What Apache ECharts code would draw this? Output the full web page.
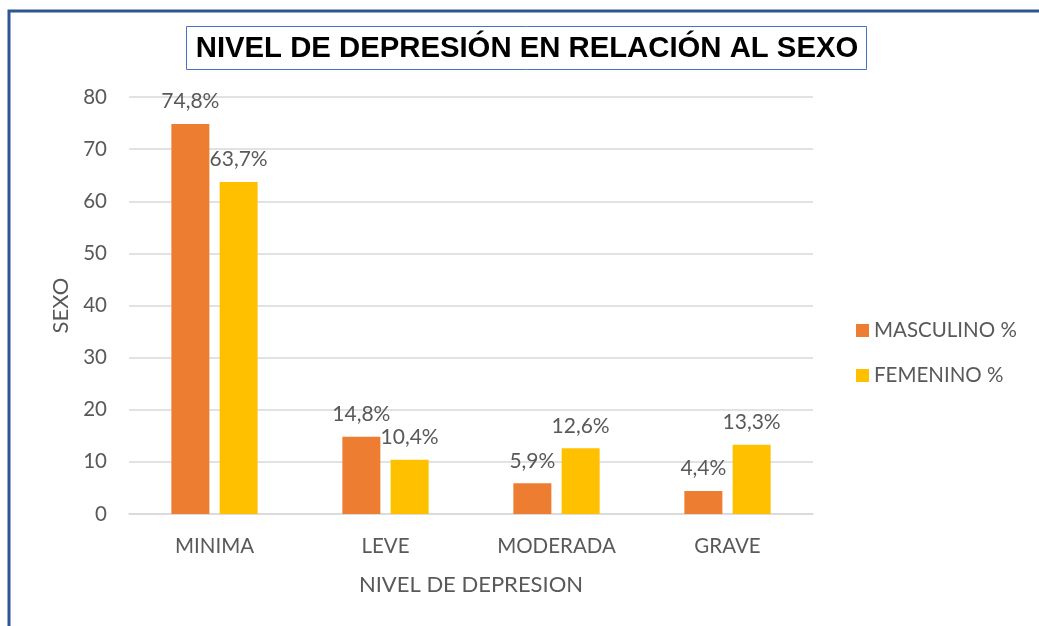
<!DOCTYPE html>
<html>
<head>
<meta charset="utf-8">
<script src="https://cdn.jsdelivr.net/npm/echarts@6/dist/echarts.min.js"></script>
<style>
  html, body { margin: 0; padding: 0; background: #fff; }
  #chart { width: 1039px; height: 626px; }
</style>
</head>
<body>
<div id="chart"></div>
<script>
let categorias = ['MINIMA', 'LEVE', 'MODERADA', 'GRAVE']
let masculino = [74.8, 14.8, 5.9, 4.4]
let femenino = [63.7, 10.4, 12.6, 13.3]
let nombres = ['MASCULINO %', 'FEMENINO %']

let gris = '#595959'
let fuente = 'Lato, "Open Sans", sans-serif'

function etiqueta(p) {
    return p.value.toFixed(1).replace('.', ',') + '%'
}

let myChart = echarts.init(document.getElementById('chart'))

let option = {
    animation: false,
    textStyle: { fontFamily: fuente },
    graphic: [
        {
            type: 'rect',
            shape: { x: 9, y: 11, width: 1200, height: 800 },
            style: { fill: 'none', stroke: '#2F5597', lineWidth: 3 },
            z: 0
        },
        {
            type: 'rect',
            shape: { x: 186.5, y: 26.5, width: 680, height: 43 },
            style: { fill: '#fff', stroke: '#4472C4', lineWidth: 1 },
            z: 1
        },
        {
            type: 'text',
            x: 527,
            y: 49,
            style: {
                text: 'NIVEL DE DEPRESIÓN EN RELACIÓN AL SEXO',
                align: 'center', verticalAlign: 'middle',
                font: 'bold 29.3px "Liberation Sans", Arial, sans-serif',
                fill: '#000'
            },
            z: 2
        }
    ],
    grid: { left: 129, right: 226, top: 97, bottom: 112 },
    legend: {
        orient: 'vertical',
        left: 851,
        top: 315,
        itemWidth: 13,
        itemHeight: 13,
        itemGap: 24,
        icon: 'rect',
        textStyle: { color: gris, fontSize: 20.5, fontFamily: fuente },
        data: nombres
    },
    xAxis: {
        type: 'category',
        data: categorias,
        name: 'NIVEL DE DEPRESION',
        nameLocation: 'middle',
        nameGap: 60,
        nameTextStyle: { color: gris, fontSize: 22, fontFamily: fuente },
        axisLine: { lineStyle: { color: '#d9d9d9', width: 1.5 } },
        axisTick: { show: false },
        axisLabel: { color: gris, fontSize: 20.5, margin: 22, fontFamily: fuente }
    },
    yAxis: {
        type: 'value',
        min: 0,
        max: 80,
        interval: 10,
        name: 'SEXO',
        nameLocation: 'middle',
        nameGap: 56,
        nameTextStyle: { color: gris, fontSize: 22, fontFamily: fuente },
        axisLine: { show: false },
        axisTick: { show: false },
        axisLabel: { color: gris, fontSize: 20.5, margin: 22, fontFamily: fuente },
        splitLine: { lineStyle: { color: '#d9d9d9', width: 1.5 } }
    },
    series: [
        {
            name: nombres[0],
            type: 'bar',
            data: masculino,
            barWidth: 38,
            barGap: '27%',
            itemStyle: { color: '#ED7D31' },
            label: {
                show: true, position: 'top', distance: 12,
                color: gris, fontSize: 21, fontFamily: fuente,
                formatter: etiqueta
            }
        },
        {
            name: nombres[1],
            type: 'bar',
            data: femenino,
            barWidth: 38,
            itemStyle: { color: '#FFC000' },
            label: {
                show: true, position: 'top', distance: 12,
                color: gris, fontSize: 21, fontFamily: fuente,
                formatter: etiqueta
            }
        }
    ]
}
myChart.setOption(option)
</script>
</body>
</html>
